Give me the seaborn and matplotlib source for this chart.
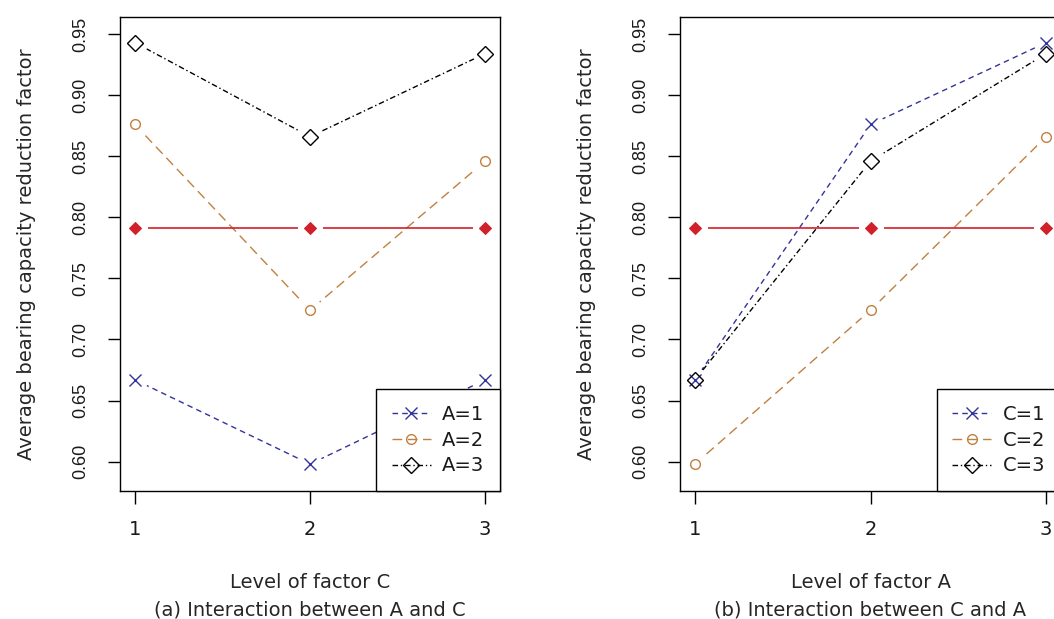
# interaction plots of the average bearing capacity reduction factor
import numpy as np
import pandas as pd
import matplotlib
matplotlib.use('Agg')
import matplotlib.pyplot as plt
import seaborn as sns
from matplotlib.lines import Line2D

# factor levels on the x axis
levels = [1, 2, 3]
# left panel: mean by level of C, one trace per level of A
a1_by_c = [0.667, 0.598, 0.667]
a2_by_c = [0.876, 0.724, 0.846]
a3_by_c = [0.943, 0.866, 0.934]
# right panel: mean by level of A, one trace per level of C
c1_by_a = [0.667, 0.876, 0.943]
c2_by_a = [0.598, 0.724, 0.866]
c3_by_a = [0.667, 0.846, 0.934]
# overall mean, drawn at every level
grand_mean = [0.791, 0.791, 0.791]
a_labels = ['A=1', 'A=2', 'A=3']
c_labels = ['C=1', 'C=2', 'C=3']
y_ticks = [0.60, 0.65, 0.70, 0.75, 0.80, 0.85, 0.90, 0.95]

sns.set_style('white')
plt.rcParams['font.family'] = ['DejaVu Sans']
plt.rcParams['text.color'] = '#1a1a1a'

# line look for the three traces (R style: dashed, long dash, dot-dash)
trace_styles = [
    dict(color='#333399', ls=(0, (4, 3)), marker='x', ms=9),
    dict(color='#c08040', ls=(0, (7, 4)), marker='o', ms=7),
    dict(color='black', ls=(0, (4, 2, 1, 2)), marker='D', ms=8),
]
mean_color = '#d0202a'


def draw_panel(ax, series, labels, xlabel):
    '''draw one interaction plot with gaps around the points (type="b")'''
    for vals, st in zip(series, trace_styles):
        sns.lineplot(x=levels, y=vals, ax=ax, color=st['color'],
                     linestyle=st['ls'], lw=1, zorder=2)
    sns.lineplot(x=levels, y=grand_mean, ax=ax, color=mean_color, lw=1.2, zorder=2)
    # white discs cut the lines around each point
    for vals in series + [grand_mean]:
        sns.lineplot(x=levels, y=vals, ax=ax, linestyle='none', marker='o', ms=18,
                     markerfacecolor='white', markeredgecolor='none', zorder=3)
    for vals, st in zip(series, trace_styles):
        sns.lineplot(x=levels, y=vals, ax=ax, linestyle='none', marker=st['marker'],
                     ms=st['ms'], markerfacecolor='none', markeredgecolor=st['color'],
                     markeredgewidth=1, zorder=4)
    sns.lineplot(x=levels, y=grand_mean, ax=ax, linestyle='none', marker='D', ms=6,
                 markerfacecolor=mean_color, markeredgecolor=mean_color, zorder=4)

    # axes, ticks and labels
    ax.set_xlim(0.915, 3.085)
    ax.set_ylim(0.576, 0.964)
    ax.set_xticks(levels)
    ax.set_xticklabels([str(v) for v in levels])
    ax.set_yticks(y_ticks)
    ax.set_yticklabels(['%.2f' % t for t in y_ticks], rotation=90, va='center',
                       family='Liberation Sans', fontsize=13)
    ax.tick_params(direction='out', length=9, width=1, color='black',
                   labelcolor='#1a1a1a', pad=12, left=True, bottom=True)
    ax.tick_params(axis='x', labelsize=14)
    ax.tick_params(axis='y', pad=13)
    for sp in ax.spines.values():
        sp.set_visible(True)
        sp.set_color('black')
        sp.set_linewidth(1)
    ax.set_ylabel('Average bearing capacity reduction factor', fontsize=14)
    ax.yaxis.set_label_coords(-0.22, 0.5)
    ax.set_xlabel(xlabel, fontsize=14, linespacing=1.6)
    ax.xaxis.set_label_coords(0.5, -0.172)

    # legend in the lower right corner
    handles = [Line2D([], [], color=st['color'], linestyle=st['ls'], lw=1,
                      marker=st['marker'], ms=st['ms'], markerfacecolor='none',
                      markeredgecolor=st['color']) for st in trace_styles]
    leg = ax.legend(handles, labels, loc='lower right', bbox_to_anchor=(1, 0),
                    borderaxespad=0, fancybox=False, edgecolor='black',
                    framealpha=1, fontsize=14, handlelength=2.0,
                    handletextpad=0.6, labelspacing=0.35, borderpad=0.8)
    leg.get_frame().set_linewidth(1)


fig = plt.figure(figsize=(10.54, 6.19), dpi=100)
ax1 = fig.add_axes([0.1139, 0.2068, 0.3605, 0.7658])
ax2 = fig.add_axes([0.6452, 0.2068, 0.3615, 0.7658])

draw_panel(ax1, [a1_by_c, a2_by_c, a3_by_c], a_labels,
           'Level of factor C\n(a) Interaction between A and C')
draw_panel(ax2, [c1_by_a, c2_by_a, c3_by_a], c_labels,
           'Level of factor A\n(b) Interaction between C and A')

fig.savefig('out.png', dpi=100)
